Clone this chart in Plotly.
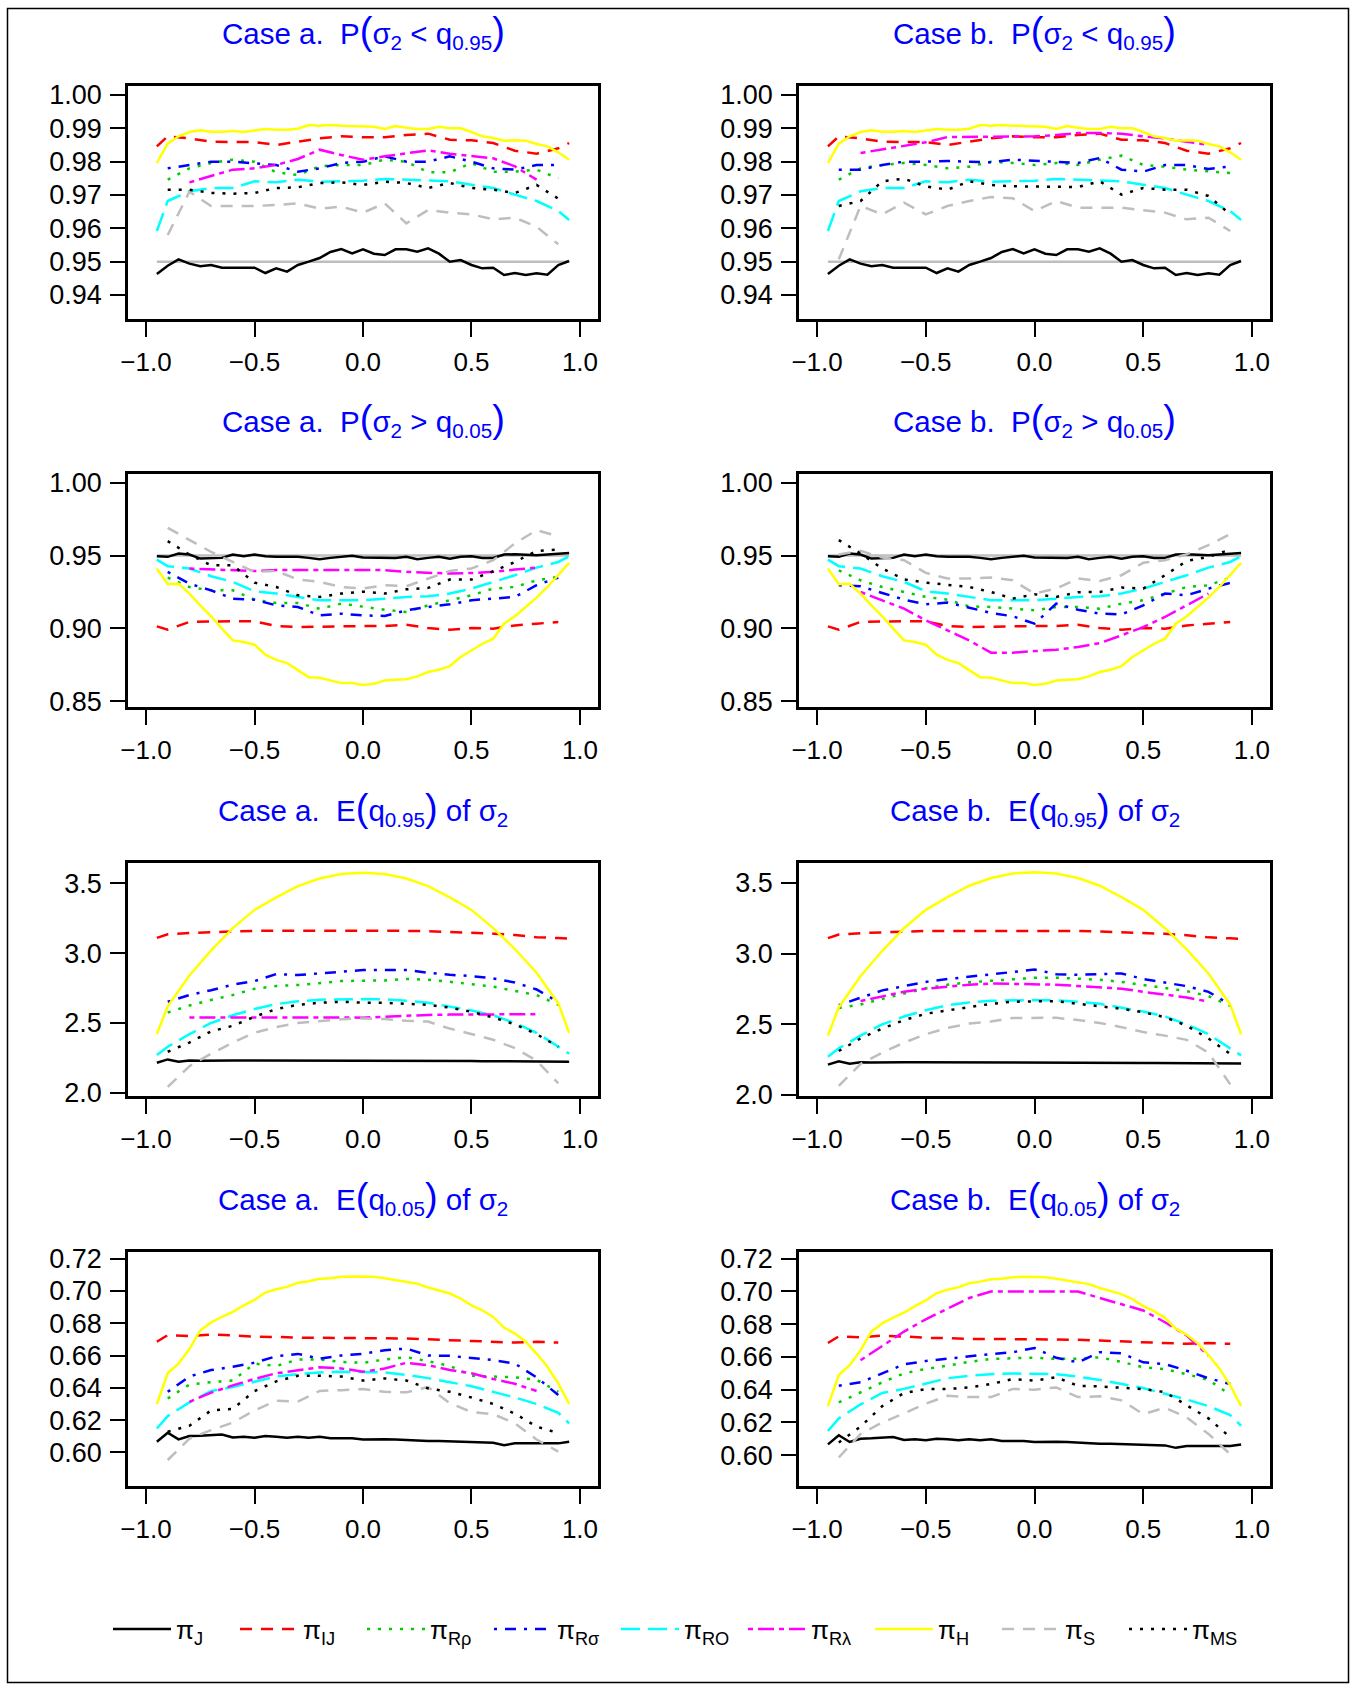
import plotly.graph_objects as go

# ---------------- x grids ----------------
X39 = [-0.95, -0.90, -0.85, -0.80, -0.75, -0.70, -0.65, -0.60, -0.55, -0.50,
       -0.45, -0.40, -0.35, -0.30, -0.25, -0.20, -0.15, -0.10, -0.05, 0.00,
       0.05, 0.10, 0.15, 0.20, 0.25, 0.30, 0.35, 0.40, 0.45, 0.50,
       0.55, 0.60, 0.65, 0.70, 0.75, 0.80, 0.85, 0.90, 0.95]
X21 = [-0.95, -0.9, -0.8, -0.7, -0.6, -0.5, -0.4, -0.3, -0.2, -0.1, 0.0,
       0.1, 0.2, 0.3, 0.4, 0.5, 0.6, 0.7, 0.8, 0.9, 0.95]
XREF = [-0.95, 0.95]
REF_LEVEL = 0.95
N = None

# ---------------- Row 1: P(sigma2 < q0.95) ----------------
P95_J = [0.9463, 0.9488, 0.9507, 0.9494, 0.9486, 0.9490, 0.9482, 0.9482, 0.9481, 0.9482,
         0.9466, 0.9480, 0.9470, 0.9490, 0.9500, 0.9511, 0.9529, 0.9538, 0.9525, 0.9537,
         0.9524, 0.9520, 0.9537, 0.9537, 0.9530, 0.9540, 0.9524, 0.9500, 0.9505, 0.9490,
         0.9480, 0.9482, 0.9460, 0.9466, 0.9460, 0.9465, 0.9461, 0.9490, 0.9502]
P95_H = [0.9796, 0.9854, 0.9876, 0.9889, 0.9894, 0.9890, 0.9890, 0.9892, 0.9889, 0.9894,
         0.9898, 0.9896, 0.9896, 0.9899, 0.9910, 0.9908, 0.9910, 0.9908, 0.9907, 0.9907,
         0.9905, 0.9898, 0.9907, 0.9902, 0.9898, 0.9898, 0.9905, 0.9900, 0.9900, 0.9889,
         0.9876, 0.9871, 0.9863, 0.9864, 0.9863, 0.9853, 0.9846, 0.9828, 0.9806]
P95_IJ = [0.9846, 0.9876, 0.9870, 0.9860, 0.9859, 0.9859, 0.9850, 0.9860, 0.9870, 0.9876, 0.9873,
          0.9873, 0.9880, 0.9884, 0.9866, 0.9864, 0.9856, 0.9833, 0.9824, 0.9840, 0.9856]
P95_RO = [0.9592, 0.9682, 0.9711, 0.9721, 0.9721, 0.9741, 0.9738, 0.9746, 0.9740, 0.9741, 0.9743,
          0.9748, 0.9746, 0.9744, 0.9741, 0.9731, 0.9721, 0.9701, 0.9682, 0.9652, 0.9625]
P95_RRHO_A = [N, 0.9746, 0.9780, 0.9796, 0.9806, 0.9800, 0.9768, 0.9760, 0.9786, 0.9790, 0.9790,
              0.9806, 0.9800, 0.9768, 0.9768, 0.9796, 0.9770, 0.9770, 0.9776, 0.9750, N]
P95_RSIG_A = [N, 0.9780, 0.9790, 0.9800, 0.9800, 0.9796, 0.9790, 0.9770, 0.9780, 0.9796, 0.9800,
              0.9816, 0.9800, 0.9800, 0.9816, 0.9800, 0.9780, 0.9776, 0.9790, 0.9790, N]
P95_RLAM_A = [N, N, 0.9738, 0.9756, 0.9776, 0.9780, 0.9790, 0.9808, 0.9836, 0.9820, 0.9806,
              0.9816, 0.9824, 0.9834, 0.9824, 0.9816, 0.9810, 0.9786, 0.9746, N, N]
P95_S_A = [N, 0.9580, 0.9710, 0.9667, 0.9667, 0.9667, 0.9670, 0.9675, 0.9659, 0.9665, 0.9647,
           0.9675, 0.9615, 0.9655, 0.9647, 0.9642, 0.9627, 0.9632, 0.9605, 0.9552, N]
P95_MS_A = [N, 0.9716, 0.9716, 0.9706, 0.9704, 0.9706, 0.9721, 0.9723, 0.9736, 0.9738, 0.9730,
            0.9740, 0.9736, 0.9721, 0.9736, 0.9721, 0.9716, 0.9706, 0.9730, 0.9689, N]
P95_RRHO_B = [N, 0.9746, 0.9780, 0.9790, 0.9796, 0.9790, 0.9780, 0.9785, 0.9800, 0.9796, 0.9790,
              0.9796, 0.9790, 0.9806, 0.9818, 0.9790, 0.9785, 0.9776, 0.9770, 0.9766, N]
P95_RSIG_B = [N, 0.9776, 0.9776, 0.9790, 0.9800, 0.9800, 0.9802, 0.9800, 0.9798, 0.9806, 0.9802,
              0.9800, 0.9796, 0.9811, 0.9776, 0.9770, 0.9790, 0.9790, 0.9778, 0.9786, N]
P95_RLAM_B = [N, N, 0.9826, 0.9836, 0.9846, 0.9858, 0.9874, 0.9874, 0.9876, 0.9876, 0.9876,
              0.9880, 0.9886, 0.9886, 0.9884, 0.9876, 0.9870, 0.9860, 0.9850, N, N]
P95_S_B = [N, 0.9507, 0.9667, 0.9642, 0.9677, 0.9642, 0.9667, 0.9682, 0.9694, 0.9690, 0.9652,
           0.9682, 0.9662, 0.9662, 0.9662, 0.9654, 0.9647, 0.9627, 0.9632, 0.9592, N]
P95_MS_B = [N, 0.9667, 0.9682, 0.9741, 0.9749, 0.9726, 0.9716, 0.9741, 0.9730, 0.9726, 0.9726,
            0.9726, 0.9724, 0.9741, 0.9701, 0.9721, 0.9716, 0.9716, 0.9697, 0.9642, N]

# ---------------- Row 2: P(sigma2 > q0.05) ----------------
P05_J = [0.9495, 0.9491, 0.9514, 0.9507, 0.9479, 0.9484, 0.9484, 0.9507, 0.9495, 0.9507,
         0.9495, 0.9491, 0.9491, 0.9491, 0.9484, 0.9475, 0.9484, 0.9491, 0.9498, 0.9486,
         0.9484, 0.9484, 0.9484, 0.9491, 0.9475, 0.9484, 0.9491, 0.9479, 0.9491, 0.9495,
         0.9484, 0.9484, 0.9507, 0.9509, 0.9507, 0.9502, 0.9507, 0.9514, 0.9518]
P05_H = [0.9411, 0.9303, 0.9307, 0.9239, 0.9158, 0.9083, 0.8998, 0.8917, 0.8906, 0.8888,
         0.8819, 0.8784, 0.8761, 0.8711, 0.8665, 0.8661, 0.8642, 0.8624, 0.8624, 0.8612,
         0.8619, 0.8642, 0.8647, 0.8651, 0.8670, 0.8700, 0.8716, 0.8741, 0.8803, 0.8849,
         0.8894, 0.8929, 0.9032, 0.9083, 0.9147, 0.9211, 0.9284, 0.9365, 0.9450]
P05_IJ = [0.9014, 0.8991, 0.9044, 0.9048, 0.9050, 0.9048, 0.9016, 0.9009, 0.9009, 0.9014, 0.9016,
          0.9016, 0.9025, 0.9002, 0.8991, 0.9002, 0.8998, 0.9020, 0.9032, 0.9044, N]
P05_RO = [0.9472, 0.9427, 0.9411, 0.9358, 0.9319, 0.9255, 0.9239, 0.9216, 0.9193, 0.9193, 0.9193,
          0.9204, 0.9216, 0.9220, 0.9239, 0.9273, 0.9319, 0.9365, 0.9417, 0.9456, 0.9495]
P05_RRHO_A = [N, 0.9349, 0.9284, 0.9261, 0.9261, 0.9197, 0.9174, 0.9174, 0.9135, 0.9170, 0.9147,
              0.9128, 0.9112, 0.9158, 0.9193, 0.9227, 0.9273, 0.9284, 0.9330, 0.9353, N]
P05_RSIG_A = [N, 0.9388, 0.9307, 0.9261, 0.9204, 0.9197, 0.9158, 0.9147, 0.9089, 0.9101, 0.9089,
              0.9085, 0.9124, 0.9147, 0.9165, 0.9193, 0.9204, 0.9216, 0.9296, 0.9349, N]
P05_RLAM_A = [N, N, 0.9411, 0.9404, 0.9400, 0.9394, 0.9400, 0.9400, 0.9404, 0.9400, 0.9404,
              0.9400, 0.9388, 0.9380, 0.9376, 0.9380, 0.9388, 0.9404, 0.9417, N, N]
P05_S_A = [N, 0.9690, 0.9606, 0.9525, 0.9456, 0.9388, 0.9394, 0.9335, 0.9319, 0.9284, 0.9273,
           0.9296, 0.9289, 0.9342, 0.9394, 0.9411, 0.9468, 0.9583, 0.9674, 0.9633, N]
P05_MS_A = [N, 0.9599, 0.9507, 0.9433, 0.9433, 0.9314, 0.9284, 0.9227, 0.9216, 0.9239, 0.9252,
            0.9239, 0.9268, 0.9278, 0.9335, 0.9335, 0.9392, 0.9456, 0.9532, 0.9541, N]
P05_RRHO_B = [N, 0.9399, 0.9330, 0.9284, 0.9250, 0.9216, 0.9197, 0.9151, 0.9147, 0.9135, 0.9124,
              0.9147, 0.9147, 0.9135, 0.9170, 0.9193, 0.9239, 0.9284, 0.9296, 0.9349, N]
P05_RSIG_B = [N, 0.9296, 0.9289, 0.9243, 0.9197, 0.9165, 0.9177, 0.9142, 0.9106, 0.9083, 0.9032,
              0.9170, 0.9128, 0.9101, 0.9096, 0.9158, 0.9239, 0.9227, 0.9273, 0.9312, N]
P05_RLAM_B = [N, N, 0.9250, 0.9193, 0.9135, 0.9055, 0.8986, 0.8917, 0.8833, 0.8833, 0.8844,
              0.8853, 0.8872, 0.8899, 0.8952, 0.9009, 0.9078, 0.9158, 0.9239, N, N]
P05_S_B = [N, 0.9507, 0.9532, 0.9486, 0.9468, 0.9381, 0.9342, 0.9342, 0.9349, 0.9330, 0.9239,
           0.9273, 0.9342, 0.9326, 0.9365, 0.9450, 0.9468, 0.9509, 0.9571, 0.9647, N]
P05_MS_B = [N, 0.9606, 0.9514, 0.9411, 0.9337, 0.9314, 0.9300, 0.9284, 0.9250, 0.9204, 0.9234,
            0.9216, 0.9248, 0.9250, 0.9280, 0.9273, 0.9365, 0.9463, 0.9491, 0.9541, N]

# ---------------- Row 3: E(q0.95) of sigma2 ----------------
E95_J = [2.215, 2.239, 2.222, 2.232, 2.230, 2.232, 2.231, 2.232, 2.231, 2.231,
         2.232, 2.231, 2.231, 2.230, 2.231, 2.231, 2.230, 2.230, 2.230, 2.230,
         2.230, 2.229, 2.229, 2.229, 2.229, 2.228, 2.228, 2.227, 2.227, 2.227,
         2.226, 2.226, 2.223, 2.224, 2.223, 2.223, 2.223, 2.222, 2.223]
E95_H = [2.42, 2.62, 2.84, 3.02, 3.18, 3.31, 3.40, 3.48, 3.535, 3.567, 3.576,
         3.567, 3.535, 3.48, 3.40, 3.31, 3.18, 3.03, 2.86, 2.64, 2.43]
E95_IJ = [3.110, 3.135, 3.145, 3.153, 3.156, 3.160, 3.160, 3.162, 3.164, 3.164, 3.164,
          3.162, 3.160, 3.157, 3.152, 3.145, 3.140, 3.130, 3.115, 3.108, 3.105]
E95_RO = [2.270, 2.330, 2.420, 2.500, 2.555, 2.600, 2.635, 2.655, 2.667, 2.671, 2.671,
          2.669, 2.660, 2.645, 2.620, 2.590, 2.555, 2.500, 2.430, 2.330, 2.280]
E95_RRHO_A = [N, 2.575, 2.625, 2.665, 2.700, 2.745, 2.765, 2.772, 2.785, 2.800, 2.803,
              2.805, 2.815, 2.810, 2.795, 2.780, 2.760, 2.730, 2.700, 2.630, N]
E95_RSIG_A = [N, 2.652, 2.700, 2.735, 2.775, 2.800, 2.850, 2.843, 2.855, 2.867, 2.879,
              2.879, 2.879, 2.860, 2.845, 2.836, 2.819, 2.790, 2.740, 2.650, N]
E95_RLAM_A = [N, N, 2.540, 2.540, 2.542, 2.545, 2.545, 2.545, 2.542, 2.540, 2.538,
              2.545, 2.555, 2.558, 2.560, 2.560, 2.560, 2.562, 2.563, N, N]
E95_S_A = [N, 2.043, 2.190, 2.280, 2.360, 2.430, 2.470, 2.500, 2.515, 2.527, 2.533,
           2.528, 2.516, 2.510, 2.460, 2.420, 2.380, 2.320, 2.230, 2.067, N]
E95_MS_A = [N, 2.294, 2.360, 2.440, 2.480, 2.545, 2.600, 2.630, 2.645, 2.652, 2.645,
            2.645, 2.640, 2.630, 2.610, 2.580, 2.540, 2.490, 2.420, 2.330, N]
E95_RRHO_B = [N, 2.615, 2.640, 2.680, 2.720, 2.755, 2.780, 2.797, 2.808, 2.818, 2.829,
              2.830, 2.825, 2.815, 2.800, 2.780, 2.760, 2.735, 2.700, 2.630, N]
E95_RSIG_B = [N, 2.636, 2.690, 2.740, 2.770, 2.800, 2.820, 2.835, 2.855, 2.870, 2.888,
              2.855, 2.850, 2.855, 2.860, 2.820, 2.795, 2.770, 2.730, 2.640, N]
E95_RLAM_B = [N, N, 2.665, 2.700, 2.730, 2.752, 2.768, 2.780, 2.789, 2.787, 2.782,
              2.780, 2.771, 2.762, 2.752, 2.730, 2.710, 2.690, 2.660, N, N]
E95_S_B = [N, 2.064, 2.220, 2.300, 2.370, 2.430, 2.475, 2.505, 2.520, 2.545, 2.546,
           2.546, 2.530, 2.510, 2.480, 2.445, 2.420, 2.390, 2.300, 2.075, N]
E95_MS_B = [N, 2.311, 2.400, 2.470, 2.530, 2.575, 2.600, 2.625, 2.645, 2.660, 2.664,
            2.664, 2.645, 2.630, 2.610, 2.585, 2.550, 2.490, 2.400, 2.290, N]

# ---------------- Row 4: E(q0.05) of sigma2 ----------------
E05_J = [0.6066, 0.6122, 0.6081, 0.6101, 0.6103, 0.6107, 0.6111, 0.6093, 0.6097, 0.6091,
         0.6101, 0.6097, 0.6091, 0.6097, 0.6091, 0.6097, 0.6087, 0.6087, 0.6087, 0.6080,
         0.6082, 0.6082, 0.6080, 0.6076, 0.6076, 0.6070, 0.6070, 0.6068, 0.6066, 0.6060,
         0.6060, 0.6060, 0.6045, 0.6056, 0.6056, 0.6056, 0.6056, 0.6056, 0.6066]
E05_H = [0.630, 0.649, 0.655, 0.664, 0.6755, 0.6805, 0.684, 0.687, 0.691, 0.6945,
         0.699, 0.701, 0.7025, 0.705, 0.706, 0.7075, 0.7078, 0.7087, 0.709, 0.7088,
         0.7087, 0.7078, 0.7066, 0.7056, 0.7045, 0.7021, 0.7004, 0.6984, 0.6953, 0.6911,
         0.688, 0.6839, 0.6773, 0.6736, 0.6685, 0.6612, 0.653, 0.6427, 0.630]
E05_IJ = [0.6685, 0.6726, 0.6720, 0.6730, 0.6725, 0.6717, 0.6715, 0.6710, 0.6710, 0.6709, 0.6709,
          0.6707, 0.6705, 0.6700, 0.6695, 0.6690, 0.6685, 0.6680, 0.6685, 0.6680, N]
E05_RO = [0.6148, 0.6225, 0.6310, 0.6380, 0.6405, 0.6437, 0.6470, 0.6485, 0.6495, 0.6499, 0.6499,
          0.6495, 0.6480, 0.6460, 0.6435, 0.6410, 0.6375, 0.6340, 0.6300, 0.6245, 0.6180]
E05_RRHO_A = [N, 0.6334, 0.6420, 0.6435, 0.6445, 0.6550, 0.6535, 0.6575, 0.6575, 0.6560, 0.6555,
              0.6575, 0.6590, 0.6565, 0.6535, 0.6475, 0.6470, 0.6465, 0.6450, 0.6375, N]
E05_RSIG_A = [N, 0.6375, 0.6470, 0.6510, 0.6530, 0.6555, 0.6595, 0.6610, 0.6580, 0.6600, 0.6610,
              0.6633, 0.6643, 0.6600, 0.6598, 0.6585, 0.6572, 0.6550, 0.6465, 0.6355, N]
E05_RLAM_A = [N, N, 0.6313, 0.6370, 0.6415, 0.6455, 0.6490, 0.6510, 0.6527, 0.6520, 0.6500,
              0.6520, 0.6555, 0.6540, 0.6510, 0.6490, 0.6455, 0.6425, 0.6380, N, N]
E05_S_A = [N, 0.5953, 0.6085, 0.6138, 0.6185, 0.6260, 0.6320, 0.6315, 0.6381, 0.6385, 0.6392,
           0.6375, 0.6372, 0.6405, 0.6305, 0.6250, 0.6237, 0.6180, 0.6080, 0.6005, N]
E05_MS_A = [N, 0.6128, 0.6165, 0.6260, 0.6270, 0.6380, 0.6440, 0.6475, 0.6475, 0.6470, 0.6445,
            0.6458, 0.6445, 0.6396, 0.6375, 0.6340, 0.6300, 0.6240, 0.6160, 0.6120, N]
E05_RRHO_B = [N, 0.6322, 0.6384, 0.6445, 0.6500, 0.6527, 0.6547, 0.6570, 0.6588, 0.6592, 0.6596,
              0.6588, 0.6590, 0.6598, 0.6570, 0.6537, 0.6525, 0.6495, 0.6460, 0.6370, N]
E05_RSIG_B = [N, 0.6424, 0.6445, 0.6500, 0.6555, 0.6575, 0.6590, 0.6605, 0.6618, 0.6629, 0.6655,
              0.6595, 0.6567, 0.6629, 0.6622, 0.6567, 0.6557, 0.6516, 0.6470, 0.6435, N]
E05_RLAM_B = [N, N, 0.6580, 0.6670, 0.6755, 0.6830, 0.6895, 0.6960, 0.7000, 0.7000, 0.7000,
              0.7000, 0.7000, 0.6960, 0.6920, 0.6884, 0.6812, 0.6731, 0.6608, N, N]
E05_S_B = [N, 0.5986, 0.6130, 0.6200, 0.6255, 0.6315, 0.6363, 0.6355, 0.6355, 0.6405, 0.6400,
           0.6414, 0.6355, 0.6360, 0.6335, 0.6251, 0.6290, 0.6231, 0.6130, 0.6006, N]
E05_MS_B = [N, 0.6078, 0.6175, 0.6300, 0.6380, 0.6404, 0.6404, 0.6414, 0.6435, 0.6465, 0.6455,
            0.6476, 0.6424, 0.6420, 0.6412, 0.6404, 0.6385, 0.6305, 0.6225, 0.6110, N]

# ---------------- ticks ----------------
X_TICKVALS = [-1.0, -0.5, 0.0, 0.5, 1.0]
X_TICKTEXT = ["\u22121.0", "\u22120.5", "0.0", "0.5", "1.0"]
Y_TICKS_P95 = [0.94, 0.95, 0.96, 0.97, 0.98, 0.99, 1.00]
Y_TEXT_P95 = ["0.94", "0.95", "0.96", "0.97", "0.98", "0.99", "1.00"]
Y_TICKS_P05 = [0.85, 0.90, 0.95, 1.00]
Y_TEXT_P05 = ["0.85", "0.90", "0.95", "1.00"]
Y_TICKS_E95 = [2.0, 2.5, 3.0, 3.5]
Y_TEXT_E95 = ["2.0", "2.5", "3.0", "3.5"]
Y_TICKS_E05 = [0.60, 0.62, 0.64, 0.66, 0.68, 0.70, 0.72]
Y_TEXT_E05 = ["0.60", "0.62", "0.64", "0.66", "0.68", "0.70", "0.72"]

# ---------------- styles ----------------
ORDER = ["J", "IJ", "Rrho", "Rsig", "RO", "Rlam", "H", "S", "MS"]
LABELS = {"J": "\u03c0<sub>J</sub>", "IJ": "\u03c0<sub>IJ</sub>", "Rrho": "\u03c0<sub>R\u03c1</sub>",
          "Rsig": "\u03c0<sub>R\u03c3</sub>", "RO": "\u03c0<sub>RO</sub>", "Rlam": "\u03c0<sub>R\u03bb</sub>",
          "H": "\u03c0<sub>H</sub>", "S": "\u03c0<sub>S</sub>", "MS": "\u03c0<sub>MS</sub>"}
COLORS = {"J": "#000000", "IJ": "#FF0000", "Rrho": "#00CD00", "Rsig": "#0000FF", "RO": "#00FFFF",
          "Rlam": "#FF00FF", "H": "#FFFF00", "S": "#BEBEBE", "MS": "#000000"}
DASHES = {"J": "solid", "IJ": "12px,9px", "Rrho": "3px,8px", "Rsig": "3px,8px,11px,8px",
          "RO": "19px,8px", "Rlam": "5px,5px,16px,5px", "H": "solid", "S": "12px,9px", "MS": "3px,8px"}
LW = 2.5

# figure kept a few pixels under the window size so the page never overflows
FW, FH = 1350, 1684
def px(p):
    return p / FW
def py(p):
    return 1 - p / FH

COL_PX = [(128, 598), (799, 1270)]
ROW_PX = [(86, 319), (474, 707), (863, 1096), (1252, 1486)]
XRANGE = [-1.083, 1.083]

SUP = "<span style='font-size:38px'>"
def ttl(case, body):
    return "Case " + case + ".\u00a0\u00a0" + body

TITLE_P95 = "P" + SUP + "(</span>\u03c3<sub>2</sub> &lt; q<sub>0.95</sub>" + SUP + ")</span>"
TITLE_P05 = "P" + SUP + "(</span>\u03c3<sub>2</sub> &gt; q<sub>0.05</sub>" + SUP + ")</span>"
TITLE_E95 = "E" + SUP + "(</span>q<sub>0.95</sub>" + SUP + ")</span> of \u03c3<sub>2</sub>"
TITLE_E05 = "E" + SUP + "(</span>q<sub>0.05</sub>" + SUP + ")</span> of \u03c3<sub>2</sub>"

def series(J, IJ, RRHO, RSIG, RO, RLAM, Hs, S, MS, hgrid):
    return {"J": (X39, J), "IJ": (X21, IJ), "Rrho": (X21, RRHO), "Rsig": (X21, RSIG),
            "RO": (X21, RO), "Rlam": (X21, RLAM), "H": (hgrid, Hs), "S": (X21, S), "MS": (X21, MS)}

PANELS = [
    dict(r=0, c=0, title=ttl("a", TITLE_P95), ref=True, yr=[0.9328, 1.0027], yt=Y_TICKS_P95, ytt=Y_TEXT_P95,
         s=series(P95_J, P95_IJ, P95_RRHO_A, P95_RSIG_A, P95_RO, P95_RLAM_A, P95_H, P95_S_A, P95_MS_A, X39)),
    dict(r=0, c=1, title=ttl("b", TITLE_P95), ref=True, yr=[0.9328, 1.0027], yt=Y_TICKS_P95, ytt=Y_TEXT_P95,
         s=series(P95_J, P95_IJ, P95_RRHO_B, P95_RSIG_B, P95_RO, P95_RLAM_B, P95_H, P95_S_B, P95_MS_B, X39)),
    dict(r=1, c=0, title=ttl("a", TITLE_P05), ref=True, yr=[0.846, 1.006], yt=Y_TICKS_P05, ytt=Y_TEXT_P05,
         s=series(P05_J, P05_IJ, P05_RRHO_A, P05_RSIG_A, P05_RO, P05_RLAM_A, P05_H, P05_S_A, P05_MS_A, X39)),
    dict(r=1, c=1, title=ttl("b", TITLE_P05), ref=True, yr=[0.846, 1.006], yt=Y_TICKS_P05, ytt=Y_TEXT_P05,
         s=series(P05_J, P05_IJ, P05_RRHO_B, P05_RSIG_B, P05_RO, P05_RLAM_B, P05_H, P05_S_B, P05_MS_B, X39)),
    dict(r=2, c=0, title=ttl("a", TITLE_E95), ref=False, yr=[1.977, 3.646], yt=Y_TICKS_E95, ytt=Y_TEXT_E95,
         s=series(E95_J, E95_IJ, E95_RRHO_A, E95_RSIG_A, E95_RO, E95_RLAM_A, E95_H, E95_S_A, E95_MS_A, X21)),
    dict(r=2, c=1, title=ttl("b", TITLE_E95), ref=False, yr=[1.993, 3.641], yt=Y_TICKS_E95, ytt=Y_TEXT_E95,
         s=series(E95_J, E95_IJ, E95_RRHO_B, E95_RSIG_B, E95_RO, E95_RLAM_B, E95_H, E95_S_B, E95_MS_B, X21)),
    dict(r=3, c=0, title=ttl("a", TITLE_E05), ref=False, yr=[0.5792, 0.7241], yt=Y_TICKS_E05, ytt=Y_TEXT_E05,
         s=series(E05_J, E05_IJ, E05_RRHO_A, E05_RSIG_A, E05_RO, E05_RLAM_A, E05_H, E05_S_A, E05_MS_A, X39)),
    dict(r=3, c=1, title=ttl("b", TITLE_E05), ref=False, yr=[0.5812, 0.7241], yt=Y_TICKS_E05, ytt=Y_TEXT_E05,
         s=series(E05_J, E05_IJ, E05_RRHO_B, E05_RSIG_B, E05_RO, E05_RLAM_B, E05_H, E05_S_B, E05_MS_B, X39)),
]

FONT = "Liberation Sans, Arial, Helvetica, sans-serif"
fig = go.Figure()
layout = dict(width=FW, height=FH, margin=dict(l=0, r=0, t=0, b=0, autoexpand=False),
              paper_bgcolor="white", plot_bgcolor="white",
              font=dict(family=FONT, size=26, color="black"),
              showlegend=True, annotations=[], shapes=[])

for i, p in enumerate(PANELS, start=1):
    x0, x1 = COL_PX[p["c"]]
    top, bot = ROW_PX[p["r"]]
    xa, ya = ("x" if i == 1 else "x%d" % i), ("y" if i == 1 else "y%d" % i)
    axis_common = dict(showline=True, mirror=True, linecolor="black", linewidth=2.5,
                       ticks="outside", ticklen=15, tickwidth=2, tickcolor="black",
                       showgrid=False, zeroline=False)
    layout["xaxis" if i == 1 else "xaxis%d" % i] = dict(
        axis_common, domain=[px(x0), px(x1)], range=XRANGE, anchor=ya,
        tickfont=dict(size=26, family=FONT),
        tickmode="array", tickvals=X_TICKVALS, ticktext=X_TICKTEXT, ticklabelstandoff=3)
    layout["yaxis" if i == 1 else "yaxis%d" % i] = dict(
        axis_common, domain=[py(bot), py(top)], range=p["yr"], anchor=xa,
        tickfont=dict(size=27, family=FONT),
        tickmode="array", tickvals=p["yt"], ticktext=p["ytt"], ticklabelstandoff=3)
    layout["annotations"].append(dict(
        text=p["title"], xref="paper", yref="paper", x=px((x0 + x1) / 2), y=py(top - 54),
        xanchor="center", yanchor="middle", showarrow=False,
        font=dict(size=29.5, color="#0000FF", family=FONT)))
    if p["ref"]:
        fig.add_trace(go.Scatter(x=XREF, y=[REF_LEVEL, REF_LEVEL], mode="lines", xaxis=xa, yaxis=ya,
                                 line=dict(color="#BEBEBE", width=LW), showlegend=False, hoverinfo="skip"))
    for key in ORDER:
        xs, ys = p["s"][key]
        fig.add_trace(go.Scatter(x=xs, y=ys, mode="lines", xaxis=xa, yaxis=ya, name=LABELS[key],
                                 line=dict(color=COLORS[key], width=LW, dash=DASHES[key]),
                                 connectgaps=False, showlegend=(i == 1), legendgroup=key,
                                 hoverinfo="skip"))

layout["legend"] = dict(orientation="h", x=px(108), y=py(1629), xanchor="left", yanchor="middle",
                        entrywidth=54, entrywidthmode="pixels", itemwidth=58, traceorder="normal",
                        font=dict(size=26, family=FONT), bgcolor="rgba(0,0,0,0)")
layout["shapes"].append(dict(type="rect", xref="paper", yref="paper", x0=px(7.5), x1=px(1348.5),
                             y0=py(1682.5), y1=py(8.5), line=dict(color="black", width=1.5)))
fig.update_layout(**layout)
fig.write_html("out.html")
